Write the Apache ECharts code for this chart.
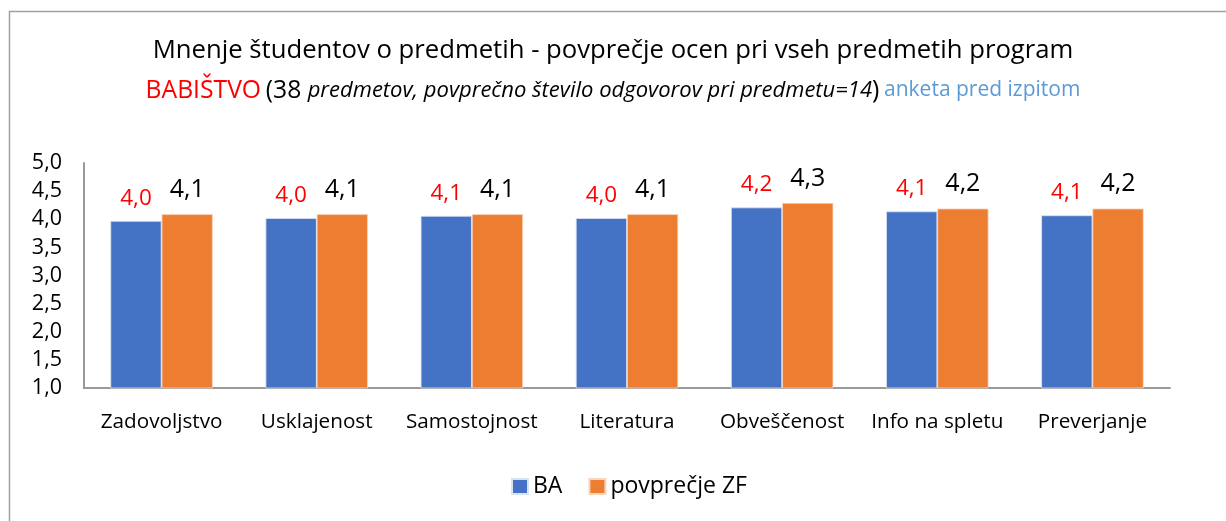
<!DOCTYPE html>
<html>
<head>
<meta charset="utf-8">
<script src="https://cdn.jsdelivr.net/npm/echarts@6/dist/echarts.min.js"></script>
<style>html,body{margin:0;padding:0;background:#fff;}#c{width:1226px;height:521px;}</style>
</head>
<body>
<div id="c"></div>
<script>
const categories = ['Zadovoljstvo', 'Usklajenost', 'Samostojnost', 'Literatura', 'Obveščenost', 'Info na spletu', 'Preverjanje'];
const seriesNames = ['BA', 'povprečje ZF'];
const valuesBA = [3.97, 4.02, 4.06, 4.02, 4.21, 4.14, 4.07];
const valuesZF = [4.09, 4.09, 4.09, 4.09, 4.29, 4.19, 4.19];
const yMin = 1, yMax = 5, yStep = 0.5;

const F = '"Open Sans", "Noto Sans", sans-serif';
const fmt = v => v.toFixed(1).replace('.', ',');

const chart = echarts.init(document.getElementById('c'), null, {renderer: 'canvas'});
chart.setOption({
  animation: false,
  backgroundColor: '#fff',
  graphic: [{
    type: 'rect', silent: true, z: -1,
    shape: {x: 9.5, y: 11.5, width: 1400, height: 700},
    style: {fill: 'none', stroke: '#a0a0a0', lineWidth: 1.5}
  }],
  title: [{
    text: 'Mnenje študentov o predmetih - povprečje ocen pri vseh predmetih program',
    left: 'center', top: 33,
    textStyle: {fontFamily: F, fontSize: 25.7, fontWeight: 'normal', color: '#000'}
  }, {
    text: '{r|BABIŠTVO} {b|(38 }{i|predmetov, povprečno število odgovorov pri predmetu=14}{b|)} {c|anketa pred izpitom}',
    left: 'center', top: 73,
    textStyle: {
      fontFamily: F, fontWeight: 'normal',
      rich: {
        r: {fontFamily: F, fontSize: 24.7, color: '#ff0000'},
        b: {fontFamily: F, fontSize: 24.7, color: '#000'},
        i: {fontFamily: F, fontSize: 22, fontStyle: 'italic', color: '#000'},
        c: {fontFamily: F, fontSize: 21, color: '#5b9bd5'}
      }
    }
  }],
  legend: {
    data: seriesNames,
    bottom: 18, left: 506,
    itemWidth: 16, itemHeight: 15, itemGap: 26,
    icon: 'rect',
    textStyle: {fontFamily: F, fontSize: 23, color: '#000'}
  },
  grid: {left: 84, right: 56, top: 163, bottom: 133, containLabel: false},
  xAxis: {
    type: 'category', data: categories,
    axisLine: {show: true, lineStyle: {color: '#999', width: 2}},
    axisTick: {show: false},
    axisLabel: {fontFamily: F, fontSize: 20.7, color: '#000', margin: 24, interval: 0}
  },
  yAxis: {
    type: 'value', min: yMin, max: yMax, interval: yStep,
    axisLine: {show: true, lineStyle: {color: '#999', width: 2}},
    axisTick: {show: false},
    splitLine: {show: false},
    axisLabel: {fontFamily: F, fontSize: 21.5, color: '#000', margin: 22, formatter: v => fmt(v)}
  },
  series: [{
    name: seriesNames[0], type: 'bar', data: valuesBA,
    barGap: '0%', barCategoryGap: '34%',
    itemStyle: {color: '#4472c4', borderColor: '#dbe3f3', borderWidth: 0.8},
    label: {show: true, position: 'top', distance: 11, fontFamily: F, fontSize: 22.5, color: '#ff0000', formatter: p => fmt(p.value)}
  }, {
    name: seriesNames[1], type: 'bar', data: valuesZF,
    barGap: '0%', barCategoryGap: '34%',
    itemStyle: {color: '#ed7d31', borderColor: '#f8d5bf', borderWidth: 0.8},
    label: {show: true, position: 'top', distance: 12, fontFamily: F, fontSize: 25, color: '#000', formatter: p => fmt(p.value)}
  }]
});
</script>
</body>
</html>
